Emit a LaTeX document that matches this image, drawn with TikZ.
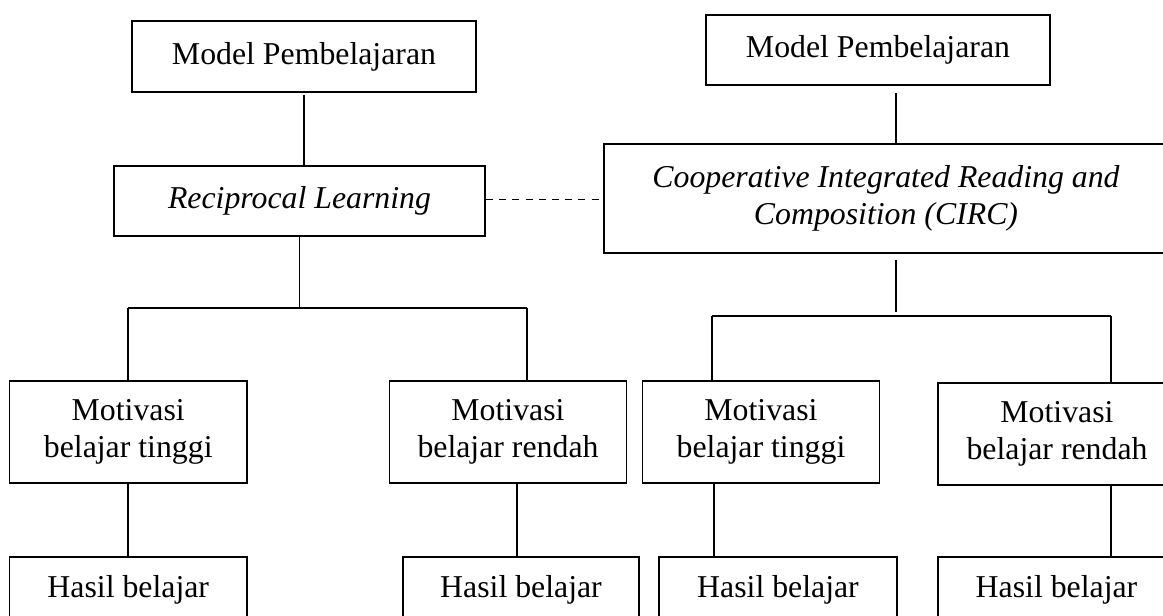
\documentclass[tikz,border=0pt]{standalone}
\usepackage{fontspec}
\setmainfont{Liberation Serif}
\begin{document}
\begin{tikzpicture}[x=1pt,y=-1pt,
  box/.style={draw,line width=1.9pt,inner sep=0pt,align=center,
    font=\fontsize{31.8}{37}\selectfont},
  conn/.style={line width=1.8pt},
  dashline/.style={line width=1.8pt,dash pattern=on 7pt off 6.2pt}]
\useasboundingbox (0,0) rectangle (1163,616);
\clip (0,0) rectangle (1163,616);
\fill[white] (0,0) rectangle (1163,616);
% top boxes
\node[box,minimum width=344pt,minimum height=71pt] (mp1) at (304,56.5) {Model Pembelajaran};
\node[box,minimum width=344pt,minimum height=70pt] (mp2) at (878,50) {Model Pembelajaran};
\node[box,minimum width=371pt,minimum height=70pt] (rl) at (299.5,201) {\itshape Reciprocal Learning};
\node[box,minimum width=564pt,minimum height=109pt] (circ) at (886,198.5) {\itshape Cooperative Integrated Reading and\\\itshape Composition (CIRC)\rule[-8pt]{0pt}{8pt}};
% motivation boxes
\node[box,minimum width=237.5pt,minimum height=102pt] (mbt1) at (128.25,432) {Motivasi\\belajar tinggi};
\node[box,minimum width=237pt,minimum height=102pt] (mbr1) at (508,432) {Motivasi\\belajar rendah};
\node[box,minimum width=237pt,minimum height=102pt] (mbt2) at (761,432) {Motivasi\\belajar tinggi};
\node[box,minimum width=238pt,minimum height=102pt] (mbr2) at (1057,434) {Motivasi\\belajar rendah};
% result boxes
\node[box,minimum width=237.5pt,minimum height=65pt] (hb1) at (128.25,589.5) {Hasil belajar};
\node[box,minimum width=236.5pt,minimum height=65pt] (hb2) at (521,589.5) {Hasil belajar};
\node[box,minimum width=237.7pt,minimum height=65pt] (hb3) at (778,589.5) {Hasil belajar};
\node[box,minimum width=237.5pt,minimum height=65pt] (hb4) at (1056.5,589.5) {Hasil belajar};
% coordinates
\coordinate (barL) at (128,308);
\coordinate (barR) at (527,308);
\coordinate (barL2) at (712,316);
\coordinate (barR2) at (1111,316);
\coordinate (c2) at (896,312);
\coordinate (m2x) at (896,0);
\coordinate (r1x) at (517,0);
\coordinate (t2x) at (714,0);
\coordinate (dy) at (0,199.5);
% connectors left
\draw[conn,shorten <=2pt] (mp1.south) -- (mp1.south |- rl.north);
\draw[conn] (rl.south) -- (rl.south |- barL);
\draw[conn] (barL) -- (barR);
\draw[conn] (barL) -- (barL |- mbt1.north);
\draw[conn] (barR) -- (barR |- mbr1.north);
\draw[conn] (mbt1.south) -- (hb1.north);
\draw[conn] (r1x |- mbr1.south) -- (r1x |- hb2.north);
% connectors right
\draw[conn,shorten <=7pt] (m2x |- mp2.south) -- (m2x |- circ.north);
\draw[conn,shorten <=6pt] (c2 |- circ.south) -- (c2);
\draw[conn] (barL2) -- (barR2);
\draw[conn] (barL2) -- (barL2 |- mbt2.north);
\draw[conn] (barR2) -- (barR2 |- mbr2.north);
\draw[conn] (t2x |- mbt2.south) -- (t2x |- hb3.north);
\draw[conn] (barR2 |- mbr2.south) -- (barR2 |- hb4.north);
% dashed link
\draw[dashline] (rl.east |- dy) -- (circ.west |- dy);
\end{tikzpicture}
\end{document}
